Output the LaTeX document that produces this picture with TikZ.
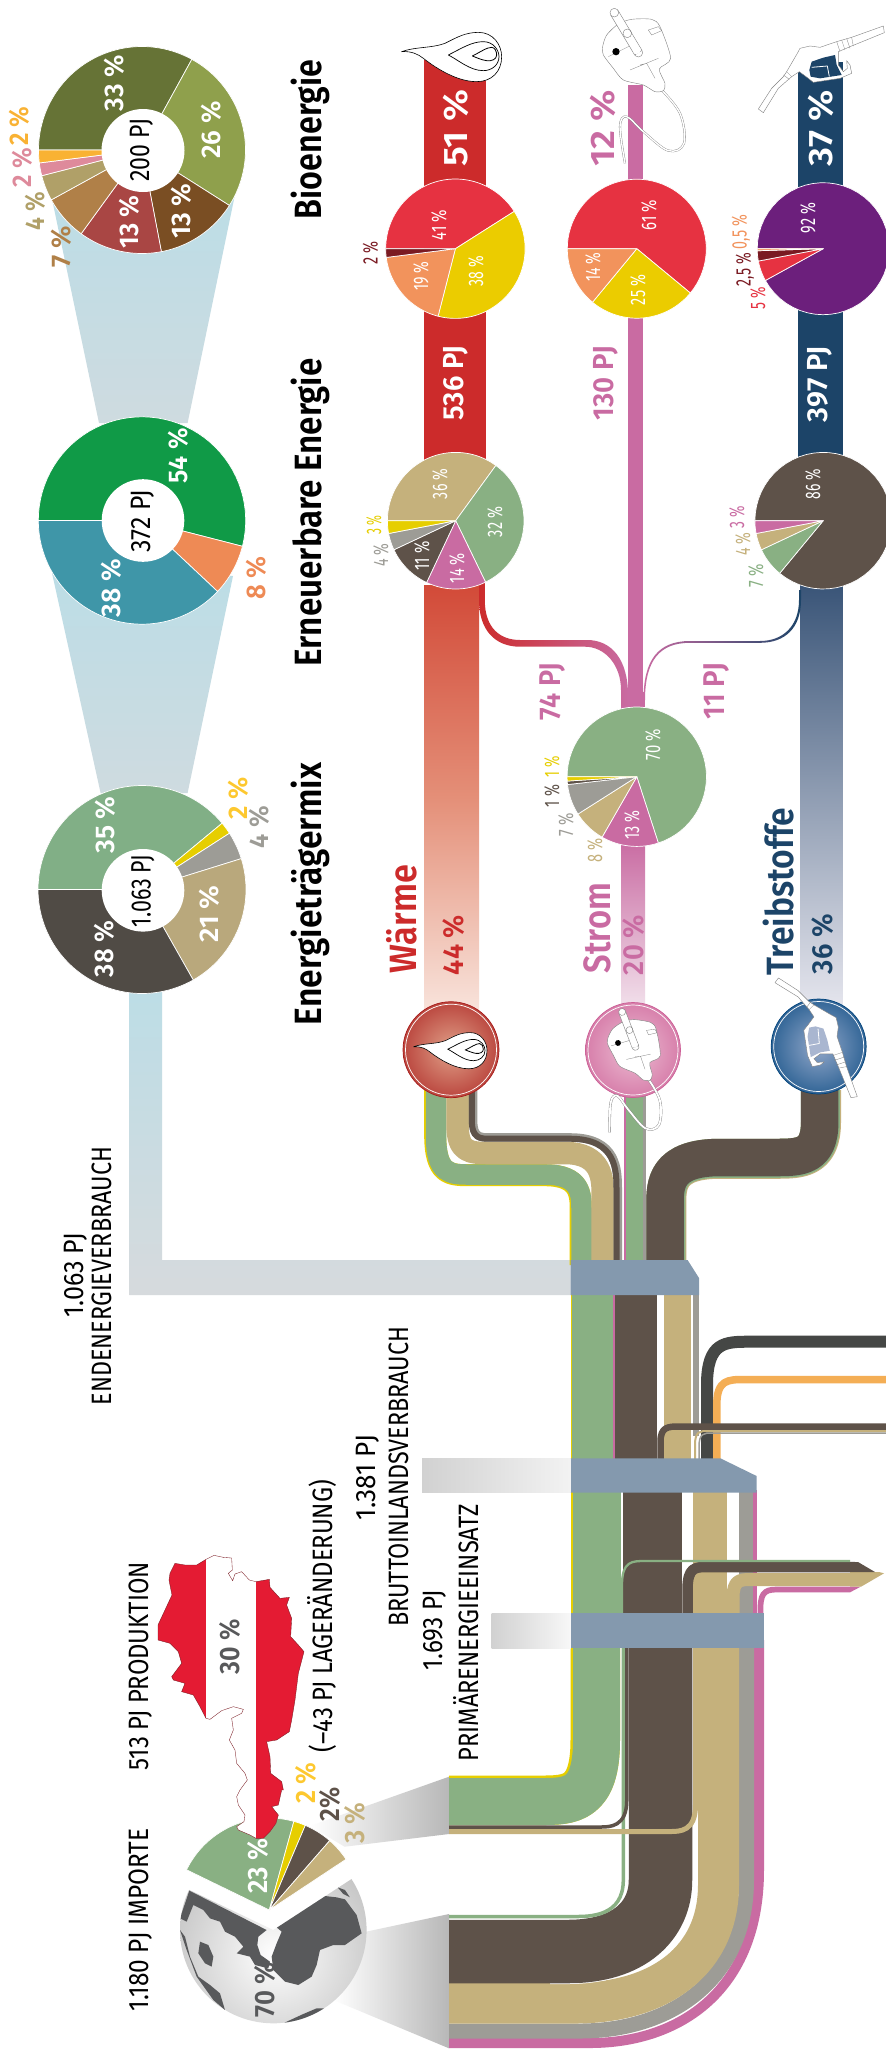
\documentclass[tikz,border=0pt]{standalone}
\usepackage{fontspec}
\usepackage{graphicx}
\setmainfont{Fira Sans}[BoldFont={Fira Sans SemiBold}]
\definecolor{cgreen}{HTML}{89B083}
\definecolor{cbrown}{HTML}{5E5249}
\definecolor{ctan}{HTML}{C5B17C}
\definecolor{cgray}{HTML}{9D9C96}
\definecolor{cpink}{HTML}{C96BA2}
\definecolor{cyel}{HTML}{E6CE00}
\definecolor{cred}{HTML}{CC2B2B}
\definecolor{cnavy}{HTML}{1C4468}
\definecolor{cband}{HTML}{8499AE}
\definecolor{csky}{HTML}{BCDDE6}
\definecolor{cfade}{HTML}{D6DADD}
\definecolor{pred}{HTML}{E63241}
\definecolor{pyel}{HTML}{EBCC00}
\definecolor{porg}{HTML}{F2935C}
\definecolor{pdrk}{HTML}{7A1A22}
\definecolor{cdgray}{HTML}{58595B}
\definecolor{redtop}{HTML}{D24A38}
\definecolor{redmid}{HTML}{E48F78}
\definecolor{redlow}{HTML}{F8E3DB}
\definecolor{navtop}{HTML}{3A5578}
\definecolor{navlow}{HTML}{E6E6EE}
\definecolor{pnklow}{HTML}{F2E2EC}
\definecolor{aolive}{HTML}{667336}
\definecolor{aolil}{HTML}{8FA04C}
\definecolor{abrown}{HTML}{7A4E23}
\definecolor{arbrown}{HTML}{A94644}
\definecolor{atan}{HTML}{B08048}
\definecolor{akhaki}{HTML}{B0A068}
\definecolor{apink}{HTML}{DE8A9B}
\definecolor{aorange}{HTML}{F9B233}
\definecolor{bgreen}{HTML}{109A47}
\definecolor{borange}{HTML}{EE8A55}
\definecolor{bteal}{HTML}{3F96A8}
\definecolor{mgreen}{HTML}{81AF86}
\definecolor{mtan}{HTML}{B9A87C}
\definecolor{mdark}{HTML}{504B45}
\definecolor{ppurple}{HTML}{6C1F7C}
\definecolor{byel}{HTML}{FDC82F}
\definecolor{corng}{HTML}{F4AE55}
\definecolor{cdark}{HTML}{454745}
\definecolor{flagred}{HTML}{E41B33}
\definecolor{rndredin}{HTML}{E0A088}
\definecolor{rndredout}{HTML}{A81A1A}
\definecolor{rndpnkin}{HTML}{ECBCD2}
\definecolor{rndpnkout}{HTML}{CC5F96}
\definecolor{rndnavin}{HTML}{93A8CA}
\definecolor{rndnavout}{HTML}{00437C}
\definecolor{nozwin}{HTML}{A9B6D0}
\newcounter{lab}
\newcommand\lab[6]{\stepcounter{lab}\node[rotate=90,inner sep=0pt,#1] (lab\arabic{lab}) at (#2,#3) {\resizebox{#4pt}{\height}{\fontsize{#5pt}{#5pt}\selectfont #6}};}
\newcommand\slice[6]{\filldraw[draw=white,line width=.7pt,fill=#6,line join=round] (#1,#2) -- plot[domain={180+3.6*#4}:{180+3.6*#5},samples=50,variable=\t] ({#1+#3*cos(\t)},{#2+#3*sin(\t)}) -- cycle;}
\newcommand\hole[3]{\fill[white] (#1,#2) circle[radius=#3];}
\newcommand\brect[5]{\fill[#5] (#1,#2) rectangle (#3,#4);}
\newcommand\flameicon{%
 \filldraw[fill=white,draw=black,line width=.6pt] (20,95) .. controls (60,80) and (110,85) .. (150,70) .. controls (190,50) and (210,38) .. (250,37) .. controls (295,37) and (320,75) .. (320,110) .. controls (320,155) and (290,185) .. (245,185) .. controls (190,185) and (130,150) .. (85,115) .. controls (70,103) and (50,93) .. cycle;
 \draw[black,line width=.7pt] (160,105) .. controls (200,85) and (230,65) .. (265,65) .. controls (295,65) and (312,90) .. (312,110) .. controls (312,135) and (290,152) .. (265,152) .. controls (225,152) and (190,120) .. cycle;
 \draw[black,line width=.8pt] (232,108) .. controls (255,97) and (275,82) .. (290,82) .. controls (300,82) and (305,95) .. (305,105) .. controls (305,118) and (290,124) .. (275,122) .. controls (260,120) and (245,113) .. cycle;}
\newcommand\plugicon[1]{%
 \draw[gray,line width=#1+.7pt] plot[smooth,tension=.6] coordinates {(240,265)(300,340)(312,430)(265,452)(190,395)(140,350)(120,380)(135,490)};
 \draw[white,line width=#1] plot[smooth,tension=.6] coordinates {(240,265)(300,340)(312,430)(265,452)(190,395)(140,350)(120,380)(135,490)};
 \filldraw[fill=white,draw=gray,line width=.4pt] plot[smooth cycle,tension=.45] coordinates {(68,140)(80,105)(115,72)(155,58)(215,58)(240,80)(272,175)(238,207)(255,250)(250,272)(225,275)(190,255)(130,240)(100,205)(70,165)};
 \draw[gray,line width=.3pt] (85,170)--(165,130) (150,210)--(235,175) (180,195)--(200,190)--(225,235) (205,90)--(235,80)--(245,92)--(215,105)--cycle;
 \filldraw[fill=white,draw=gray,line width=.4pt] (175,158) circle[radius=13];
 \filldraw[fill=white,draw=gray,line width=.4pt] (92,45)--(114,31)--(186,151)--(164,165)--cycle;
 \fill[white] (170,150) circle[radius=12];
 \filldraw[fill=white,draw=gray,line width=.4pt] (103,38) circle[radius=13];
 \draw[gray,line width=.4pt] (142,100) circle[radius=13];
 \fill[black] (108,155) circle[radius=11];}
\newcommand\nozzleicon[1]{%
 \filldraw[fill=white,draw=gray,line width=.4pt,line join=round] (430,48)--(433,68)--(335,108)--(295,125)--(295,165)--(310,185)--(322,175)--(320,152)--(330,165)--(335,190)--(300,205)--(220,217)--(205,205)--(178,185)--(155,200)--(115,235)--(70,308)--(55,297)--(95,235)--(130,200)--(140,185)--(172,130)--(180,115)--(210,108)--(240,112)--(290,95)--(335,82)--cycle;
 \fill[#1] (215,155)--(250,143)--(285,135)--(290,165)--(305,195)--(240,205)--(212,200)--(208,180)--cycle;
 \draw[white,line width=.8pt] (215,172)--(262,168)--(268,200);
 \draw[gray,line width=.3pt] (290,95)--(300,125) (305,90)--(315,120) (320,85)--(330,115) (335,82)--(340,108) (140,185)--(155,200) (130,195)--(148,208);}
\newcommand\roundel[6]{% x y r inner outer ring
 \begin{scope}\clip (#1,#2) circle[radius=#3];
 \shade[inner color=#4,outer color=#5] (#1,#2) circle[radius=1.5*#3];\end{scope}
 \draw[#6,line width=.7pt] (#1,#2) circle[radius=#3];
 \draw[white,line width=.7pt] (#1,#2) circle[radius=#3-2.5];}
\tikzset{
 boldlab/.style={font=\bfseries},
 flowline/.style={line cap=butt,line join=round},
}
\begin{document}
\begin{tikzpicture}[x=1pt,y=-1pt]
\useasboundingbox (0,0) rectangle (886,2056);
\clip (0,0) rectangle (886,2056);
\fill[white] (0,0) rectangle (886,2056);

% light funnels
\shade[top color=csky,bottom color=cfade!70!csky] (52,199)--(234.5,197)--(187.6,423)--(99,423)--cycle;
\shade[top color=csky,bottom color=cfade!70!csky] (52,573)--(233,576)--(187.6,793)--(100.6,793)--cycle;
\shade[top color=csky,bottom color=cfade] (129.4,985)--(162,985)--(162,1260)--(570.6,1260)--(570.6,1295)--(129.4,1295)--cycle;

% upper flows
\brect{424}{60}{486}{460}{cred}
\brect{628.3}{85}{642.7}{706}{cpink}
\brect{798}{62}{842.7}{460}{cnavy}
\shade[top color=redtop,bottom color=redlow,middle color=redmid] (424,585) rectangle (479,1010);
\shade[top color=navtop,bottom color=navlow] (800,585) rectangle (842.7,1010);
\shade[top color=cpink,bottom color=pnklow] (621,840) rectangle (645,1010);
\brect{621}{692}{645}{712}{cpink}
\shade[left color=cred,right color=cpink] (484.8,583)--(484.8,600) .. controls (484.8,628) and (500,640) .. (520,640)--(587,640) .. controls (612,640) and (628,660) .. (628,695)--(628,706)--(621,706)--(621,690) .. controls (621,665) and (605,646.7) .. (585,646.7)--(520,646.7) .. controls (495,646.7) and (479,630) .. (479,600)--(479,583)--cycle;
\shade[left color=cpink,right color=cnavy] (801,590)--(801,600) .. controls (801,628) and (785,642.8) .. (760,642.8)--(690,642.8) .. controls (660,642.8) and (645,660) .. (645,700)--(643.5,700) .. controls (643.5,660) and (658,641) .. (690,641)--(760,641) .. controls (783,641) and (799,626) .. (799,600)--(799,590)--cycle;

% donuts
\slice{142}{150}{103.5}{0}{33}{aolive}
\slice{142}{150}{103.5}{33}{59}{aolil}
\slice{142}{150}{103.5}{59}{72}{abrown}
\slice{142}{150}{103.5}{72}{85}{arbrown}
\slice{142}{150}{103.5}{85}{92}{atan}
\slice{142}{150}{103.5}{92}{96}{akhaki}
\slice{142}{150}{103.5}{96}{98}{apink}
\slice{142}{150}{103.5}{98}{100}{aorange}
\hole{143}{150.5}{41.5}
\slice{142}{520.5}{103.7}{0}{54}{bgreen}
\slice{142}{520.5}{103.7}{54}{62}{borange}
\slice{142}{520.5}{103.7}{62}{100}{bteal}
\hole{143}{520.5}{41.3}
\slice{142}{889.5}{104}{0}{39}{mgreen}
\slice{142}{889.5}{104}{39}{40.9}{cyel}
\slice{142}{889.5}{104}{40.9}{45.2}{cgray}
\slice{142}{889.5}{104}{45.2}{66.8}{mtan}
\slice{142}{889.5}{104}{66.8}{100}{mdark}
\hole{143}{890.3}{41.3}

% small pies
\slice{455.4}{248.7}{69.7}{0}{41}{pred}
\slice{455.4}{248.7}{69.7}{41}{79}{pyel}
\slice{455.4}{248.7}{69.7}{79}{98}{porg}
\slice{455.4}{248.7}{69.7}{98}{100}{pdrk}
\slice{636.8}{248.7}{69.5}{0}{61}{pred}
\slice{636.8}{248.7}{69.5}{61}{86}{pyel}
\slice{636.8}{248.7}{69.5}{86}{100}{porg}
\slice{823.2}{248.7}{66}{0}{92}{ppurple}
\slice{823.2}{248.7}{66}{92}{97}{pred}
\slice{823.2}{248.7}{66}{97}{99.5}{pdrk}
\slice{823.2}{248.7}{66}{99.5}{100}{porg}
\slice{455.7}{520.7}{68.3}{0}{35}{ctan}
\slice{455.7}{520.7}{68.3}{35}{67.8}{cgreen}
\slice{455.7}{520.7}{68.3}{67.8}{82}{cpink}
\slice{455.7}{520.7}{68.3}{82}{93}{cbrown}
\slice{455.7}{520.7}{68.3}{93}{97}{cgray}
\slice{455.7}{520.7}{68.3}{97}{100}{cyel}
\slice{823.2}{520.7}{68.3}{0}{86}{cbrown}
\slice{823.2}{520.7}{68.3}{86}{93}{cgreen}
\slice{823.2}{520.7}{68.3}{93}{97}{ctan}
\slice{823.2}{520.7}{68.3}{97}{100}{cpink}
\slice{636.8}{776.7}{69.7}{0}{70}{cgreen}
\slice{636.8}{776.7}{69.7}{70}{83.3}{cpink}
\slice{636.8}{776.7}{69.7}{83.3}{91}{ctan}
\slice{636.8}{776.7}{69.7}{91}{98.2}{cgray}
\slice{636.8}{776.7}{69.7}{98.2}{99}{cbrown}
\slice{636.8}{776.7}{69.7}{99}{100}{cyel}

% input funnels
\shade[left color=white,right color=black!28] (310,1826)--(449,1776.7)--(449,1834)--(344.6,1846.7)--cycle;
\shade[left color=white,right color=black!28] (366,1931.7)--(449,1914)--(449,2048.3)--(333.4,2000)--cycle;

% wide bottom flows
\begin{scope}[flowline]
\draw[cpink,line width=10pt] (759,1640)--(759,1870) .. controls (759,1990) and (680,2043) .. (590,2043)--(449,2043);
\draw[cgray,line width=15pt] (746.5,1640)--(746.5,1880) .. controls (746.5,1980) and (670,2031) .. (580,2031)--(449,2031);
\draw[ctan,line width=41pt] (718.5,1640)--(718.5,1885) .. controls (718.5,1960) and (660,2003) .. (575,2003)--(449,2003);
\draw[white,line width=65pt] (660.5,1760)--(660.5,1880) .. controls (660.5,1920) and (630,1951.5) .. (568,1951.5)--(550,1951.5);
\draw[cbrown,line width=63.5pt] (660.5,1640)--(660.5,1880) .. controls (660.5,1920) and (630,1951.5) .. (568,1951.5)--(449,1951.5);
\draw[cgreen,line width=3.5pt] (623.3,1640)--(623.3,1880) .. controls (623.3,1916.5) and (590,1916.5) .. (575,1916.5)--(449,1916.5);
\draw[cyel,line width=49.5pt] (595.25,1640)--(595.25,1740) .. controls (595.25,1800.25) and (570,1800.25) .. (540,1800.25)--(449,1800.25);
\draw[cgreen,line width=47pt] (596.5,1640)--(596.5,1740) .. controls (596.5,1801.5) and (570,1801.5) .. (540,1801.5)--(449,1801.5);
\draw[cbrown,line width=3.5pt] (626.8,1640)--(626.8,1800) .. controls (626.8,1827) and (610,1827) .. (600,1827)--(449,1827);
\draw[ctan,line width=5pt] (695.5,1640)--(695.5,1805) .. controls (695.5,1831.5) and (680,1831.5) .. (670,1831.5)--(449,1831.5);

% between bands 2 and 3
\brect{570.6}{1490}{573}{1620}{cyel}
\brect{573}{1490}{621}{1620}{cgreen}
\brect{623}{1490}{682}{1620}{cbrown}
\brect{692.7}{1490}{727}{1620}{ctan}
\brect{738.5}{1490}{753}{1620}{cgray}
\brect{753}{1490}{756.6}{1620}{cpink}
% export branches
\draw[cpink,line width=5.7pt] (760.5,1620)--(760.5,1608) .. controls (760.5,1589.5) and (768,1589.5) .. (780,1589.5)--(850,1589.5);
\draw[ctan,line width=13pt] (733,1620)--(733,1598) .. controls (733,1579.5) and (740,1579.5) .. (752,1579.5)--(855,1579.5);
\draw[cbrown,line width=10.5pt] (687.5,1620)--(687.5,1590) .. controls (687.5,1567) and (695,1567) .. (708,1567)--(855,1567);
\draw[cgreen,line width=2.3pt] (622,1620)--(622,1585) .. controls (622,1561) and (632,1561) .. (645,1561)--(850,1561);
\fill[cpink] (850,1586.5)--(861,1586.5)--(850,1592.3)--cycle;
\fill[ctan] (850,1572)--(879,1572)--(884,1573.3)--(861,1586.7)--(850,1586.7)--cycle;
\fill[cbrown] (850,1562)--(858,1562)--(875,1572)--(850,1572)--cycle;

% between bands 1 and 2
\brect{570.6}{1290}{572.3}{1465}{cyel}
\brect{572.3}{1290}{613}{1465}{cgreen}
\brect{613}{1290}{614.5}{1465}{cpink}
\brect{614.5}{1290}{657}{1465}{cbrown}
\brect{664}{1290}{691}{1465}{ctan}
\brect{693}{1290}{699}{1436}{cgray}
\draw[cdark,line width=12pt] (707,1465)--(707,1385) .. controls (707,1341.7) and (725,1341.7) .. (750,1341.7)--(886,1341.7);
\draw[corng,line width=7.5pt] (716.8,1465)--(716.8,1405) .. controls (716.8,1379.5) and (728,1379.5) .. (745,1379.5)--(886,1379.5);
\draw[cbrown,line width=6.5pt] (660.5,1465)--(660.5,1442) .. controls (660.5,1426.5) and (668,1426.5) .. (680,1426.5)--(886,1426.5);
\draw[ctan,line width=2pt] (695,1465)--(695,1445) .. controls (695,1431) and (700,1431) .. (708,1431)--(886,1431);
\draw[cgray,line width=1.5pt] (699,1465)--(699,1447) .. controls (699,1433) and (704,1433) .. (712,1433)--(886,1433);

% towards the three uses
\draw[cyel,line width=22pt] (435.2,1090)--(435.2,1135) .. controls (435.2,1175.2) and (450,1175.2) .. (470,1175.2)--(545,1175.2) .. controls (580.7,1175.2) and (580.7,1195) .. (580.7,1210)--(580.7,1265);
\draw[cgreen,line width=20.5pt] (436,1090)--(436,1135) .. controls (436,1174.5) and (450,1174.5) .. (470,1174.5)--(545,1174.5) .. controls (581.5,1174.5) and (581.5,1195) .. (581.5,1210)--(581.5,1265);
\draw[ctan,line width=22.5pt] (457.6,1090)--(457.6,1125) .. controls (457.6,1153) and (470,1153) .. (490,1153)--(565,1153) .. controls (602.7,1153) and (602.7,1180) .. (602.7,1195)--(602.7,1265);
\draw[cgray,line width=8.5pt] (473.05,1090)--(473.05,1120) .. controls (473.05,1137.45) and (480,1137.45) .. (490,1137.45)--(570,1137.45) .. controls (617.75,1137.45) and (617.75,1170) .. (617.75,1190)--(617.75,1265);
\draw[cbrown,line width=6pt] (471.8,1090)--(471.8,1120) .. controls (471.8,1138.7) and (480,1138.7) .. (490,1138.7)--(570,1138.7) .. controls (616.5,1138.7) and (616.5,1170) .. (616.5,1190)--(616.5,1265);
\brect{624}{1090}{625.5}{1265}{cpink}
\brect{625.5}{1090}{642.5}{1265}{cgreen}
\brect{643}{1090}{646}{1265}{cgray}
\draw[ctan,line width=40pt] (821,1090)--(821,1122) .. controls (821,1158.75) and (800,1158.75) .. (775,1158.75)--(720,1158.75) .. controls (666.25,1158.75) and (666.25,1185) .. (666.25,1205)--(666.25,1265);
\draw[cgreen,line width=39pt] (820.4,1090)--(820.4,1122) .. controls (820.4,1158.25) and (800,1158.25) .. (775,1158.25)--(720,1158.25) .. controls (665.75,1158.25) and (665.75,1185) .. (665.75,1205)--(665.75,1265);
\draw[cbrown,line width=37.5pt] (819.7,1090)--(819.7,1122) .. controls (819.7,1157.5) and (800,1157.5) .. (775,1157.5)--(720,1157.5) .. controls (665,1157.5) and (665,1185) .. (665,1205)--(665,1265);
\end{scope}

% bands
\fill[cband] (570.6,1260)--(687.6,1260)--(699,1278)--(699,1295)--(570.6,1295)--cycle;
\fill[cband] (570.6,1458.3)--(720.4,1458.3)--(756.6,1476)--(756.6,1492.7)--(570.6,1492.7)--cycle;
\fill[cband] (570.6,1613.3) rectangle (764,1648.3);
\shade[left color=black!18,right color=black!5] (422,1458.3) rectangle (570.6,1492.7);
\shade[left color=black!18,right color=black!3] (491.5,1613.3) rectangle (570.6,1648.3);

% roundels and icons
\roundel{451}{1049.7}{48}{rndredin}{rndredout}{rndredout}
\roundel{633}{1050}{47.5}{rndpnkin}{rndpnkout}{rndpnkout}
\roundel{818.7}{1046.5}{47.5}{rndnavin}{rndnavout}{rndnavout}
\begin{scope}[shift={(395,20)},scale=.3333]\flameicon\end{scope}
\begin{scope}[shift={(408.7,1023.5)},scale=.2447]\flameicon\end{scope}
\begin{scope}[shift={(580,0)},scale=.3333]\plugicon{1.4pt}\end{scope}
\begin{scope}[shift={(596.8,997.2)},rotate=-10,scale=.267]\plugicon{1.8pt}\end{scope}
\begin{scope}[shift={(740,10)},scale=.3333]\nozzleicon{cnavy}\end{scope}
\begin{scope}[shift={(872.5,960.5)},rotate=-90,scale=.3167]\nozzleicon{nozwin}\end{scope}

% sources
\slice{269.3}{1910}{92}{7.2}{29.3}{cgreen}
\slice{269.3}{1910}{92}{29.3}{31.4}{cyel}
\slice{269.3}{1910}{92}{31.4}{36.4}{cbrown}
\slice{269.3}{1910}{92}{36.4}{40.7}{ctan}
\begin{scope}
\clip (273.3,1930) -- plot[domain=-33.1:205.5,samples=80,variable=\t] ({273.3+93.3*cos(\t)},{1930+93.3*sin(\t)}) -- cycle;
\shade[inner color=white,outer color=black!35] (275,1955) circle[radius=170];
\begin{scope}[shift={(170,1790)},scale=.3333]
\fill[cdgray] (320,412)--(465,318)--(500,322)--(525,328)--(560,375)--(575,430)--(525,465)--(490,465)--(450,480)--(440,525)--(425,560)--(385,585)--(345,575)--(310,540)--(305,500)--(320,460)--(335,425)--cycle;
\fill[cdgray] (503,292)--(525,300)--(540,322)--(520,312)--cycle;
\fill[cdgray] (58,302)--(290,420)--(265,440)--(262,465)--(272,495)--(300,515)--(295,535)--(255,525)--(240,500)--(200,490)--(220,470)--(195,440)--(165,425)--(150,395)--(120,385)--(100,360)--(70,345)--(50,395)--(30,385)--cycle;
\fill[cdgray] (90,455)--(115,465)--(130,500)--(125,530)--(105,520)--(85,490)--cycle;
\fill[cdgray] (30,420)--(50,480)--(80,560)--(130,630)--(165,660)--(150,610)--(120,585)--(85,560)--(60,500)--(45,440)--cycle;
\fill[cdgray] (335,702)--(400,672)--(440,655)--(470,655)--(430,690)--(380,720)--(335,720)--cycle;
\end{scope}
\end{scope}
\begin{scope}[shift={(170,1550)},scale=.3333]
\def\austria{(108,28)--(132,16)--(160,22)--(185,24)--(187,60)--(175,70)--(188,92)--(195,72)--(215,65)--(238,90)--(258,95)--(298,88)--(300,112)--(330,145)--(358,142)--(350,165)--(365,205)--(362,260)--(385,285)--(402,305)--(385,370)--(375,450)--(365,510)--(358,545)--(320,570)--(290,575)--(300,620)--(302,670)--(335,695)--(340,720)--(335,720)--(325,765)--(305,770)--(325,795)--(318,820)--(300,845)--(280,865)--(258,865)--(240,855)--(205,840)--(200,830)--(222,815)--(225,795)--(205,765)--(200,740)--(210,720)--(232,690)--(225,670)--(200,640)--(195,600)--(178,570)--(190,540)--(185,505)--(215,490)--(220,478)--(190,470)--(155,482)--(120,508)--(108,505)--(90,470)--(70,435)--(35,425)--(45,400)--(10,390)--(5,380)--(35,340)--(25,305)--(0,280)--(-36,270)--(-36,225)--(-15,180)--(6,135)--(-3,90)--(0,70)--(15,40)--(45,45)--(80,45)--cycle}
\fill[white] \austria;
\begin{scope}\clip \austria;
\fill[flagred] (-60,0) rectangle (108,900);
\fill[flagred] (257,0) rectangle (420,900);
\end{scope}
\draw[pdrk,line width=.35pt] \austria;
\end{scope}

% titles
\lab{boldlab,text=black}{310}{139.5}{159}{38}{Bioenergie}
\lab{boldlab,text=black}{310}{512.5}{308}{38}{Erneuerbare Energie}
\lab{boldlab,text=black}{310}{894}{262}{38}{Energieträgermix}
\lab{boldlab,text=cred}{402}{919}{108}{38}{Wärme}
\lab{boldlab,text=cpink}{597.5}{928}{90}{38}{Strom}
\lab{boldlab,text=cnavy}{778.5}{891.5}{167}{38}{Treibstoffe}

% big labels on flows
\lab{boldlab,text=white}{456}{128}{76}{34}{51 \%}
\lab{boldlab,text=white}{456}{383}{75}{29}{536 PJ}
\lab{boldlab,text=cpink}{603}{128}{76}{34}{12 \%}
\lab{boldlab,text=cpink}{606}{383}{74}{29}{130 PJ}
\lab{boldlab,text=white}{821}{128}{76}{34}{37 \%}
\lab{boldlab,text=white}{820}{384}{76}{29}{397 PJ}
\lab{boldlab,text=cpink}{553}{691.7}{57}{30}{74 PJ}
\lab{boldlab,text=cpink}{717}{691}{56}{30}{11 PJ}
\lab{boldlab,text=cred}{453.6}{945}{60}{29}{44 \%}
\lab{boldlab,text=cpink}{634}{945}{60}{29}{20 \%}
\lab{boldlab,text=cnavy}{823}{944}{60}{29}{36 \%}

% donut labels
\lab{boldlab,text=white}{114}{83}{56}{27}{33 \%}
\lab{boldlab,text=white}{211}{130}{57}{27}{26 \%}
\lab{boldlab,text=white}{181}{211}{55}{27}{13 \%}
\lab{boldlab,text=white}{129}{222}{53}{27}{13 \%}
\lab{boldlab,text=atan}{61}{247}{41}{27}{7 \%}
\lab{boldlab,text=akhaki}{35}{211}{38}{27}{4 \%}
\lab{boldlab,text=apink}{22}{167.5}{39}{27}{2 \%}
\lab{boldlab,text=aorange}{19}{126}{39}{27}{2 \%}
\lab{text=black}{142}{150}{63}{28}{200 PJ}
\lab{boldlab,text=white}{178}{456}{55}{27}{54 \%}
\lab{text=black}{143}{521}{63}{28}{372 PJ}
\lab{boldlab,text=white}{111}{588}{58}{27}{38 \%}
\lab{boldlab,text=borange}{256}{577.7}{43}{27}{8 \%}
\lab{boldlab,text=white}{105}{825}{57}{27}{35 \%}
\lab{boldlab,text=byel}{238}{798}{42}{27}{2 \%}
\lab{boldlab,text=cgray}{259}{827}{42}{27}{4 \%}
\lab{boldlab,text=white}{209}{914}{57}{27}{21 \%}
\lab{boldlab,text=white}{104}{949}{56}{27}{38 \%}
\lab{text=black}{143}{891}{72}{28}{1.063 PJ}

% small pie labels
\lab{text=white}{439}{225}{30}{21}{41 \%}
\lab{text=white}{476}{271}{30}{21}{38 \%}
\lab{text=white}{421}{276}{29}{21}{19 \%}
\lab{text=pdrk}{370.6}{253}{23}{21}{2 \%}
\lab{text=white}{649}{215}{30}{21}{61 \%}
\lab{text=white}{593}{267}{29}{21}{14 \%}
\lab{text=white}{638}{290}{30}{21}{25 \%}
\lab{text=white}{808}{218}{30}{21}{92 \%}
\lab{text=porg}{741}{232}{34}{21}{0,5 \%}
\lab{text=pdrk}{745}{269.5}{33}{21}{2,5 \%}
\lab{text=pred}{758}{298}{22}{21}{5 \%}
\lab{text=white}{440}{484}{30}{21}{36 \%}
\lab{text=white}{495}{522}{30}{21}{32 \%}
\lab{text=white}{457}{568}{30}{21}{14 \%}
\lab{text=white}{422}{556}{29}{21}{11 \%}
\lab{text=cgray}{381}{555}{23}{21}{4 \%}
\lab{text=cyel}{374}{525}{19}{21}{3 \%}
\lab{text=white}{813}{484}{30}{21}{86 \%}
\lab{text=cpink}{737}{517}{22}{21}{3 \%}
\lab{text=ctan}{743}{544}{23}{21}{4 \%}
\lab{text=cgreen}{756}{576}{23}{21}{7 \%}
\lab{text=white}{653}{744.5}{31}{21}{70 \%}
\lab{text=white}{632}{825}{29}{21}{13 \%}
\lab{text=cyel}{552}{767}{21}{21}{1 \%}
\lab{text=cbrown}{552}{796}{22}{21}{1 \%}
\lab{text=cgray}{566}{825}{23}{21}{7 \%}
\lab{text=ctan}{595}{850}{24}{21}{8 \%}

% black captions
\lab{text=black}{76}{1275}{84}{28}{1.063 PJ}
\lab{text=black}{102}{1276}{258}{28}{ENDENERGIEVERBRAUCH}
\lab{text=black}{368}{1477.5}{85}{28}{1.381 PJ}
\lab{text=black}{399}{1476.7}{300}{28}{BRUTTOINLANDSVERBRAUCH}
\lab{text=black}{435}{1630}{80}{28}{1.693 PJ}
\lab{text=black}{466}{1633}{257}{28}{PRIMÄRENERGIEEINSATZ}
\lab{text=black}{141}{1920}{183}{28}{1.180 PJ IMPORTE}
\lab{text=black}{141}{1666}{208}{28}{513 PJ PRODUKTION}
\lab{text=black}{322}{1616}{272}{28}{(–43 PJ LAGERÄNDERUNG)}

% source labels
\lab{boldlab,text=cdgray}{230}{1647}{55}{28}{30 \%}
\lab{boldlab,text=white}{258}{1866}{55}{28}{23 \%}
\lab{boldlab,text=byel}{306}{1783}{41}{28}{2 \%}
\lab{boldlab,text=cbrown}{330}{1804}{34}{28}{2\%}
\lab{boldlab,text=ctan}{355}{1823}{41}{28}{3 \%}
\lab{boldlab,text=cdgray}{265}{1990}{55}{28}{70 \%}
\end{tikzpicture}
\end{document}
